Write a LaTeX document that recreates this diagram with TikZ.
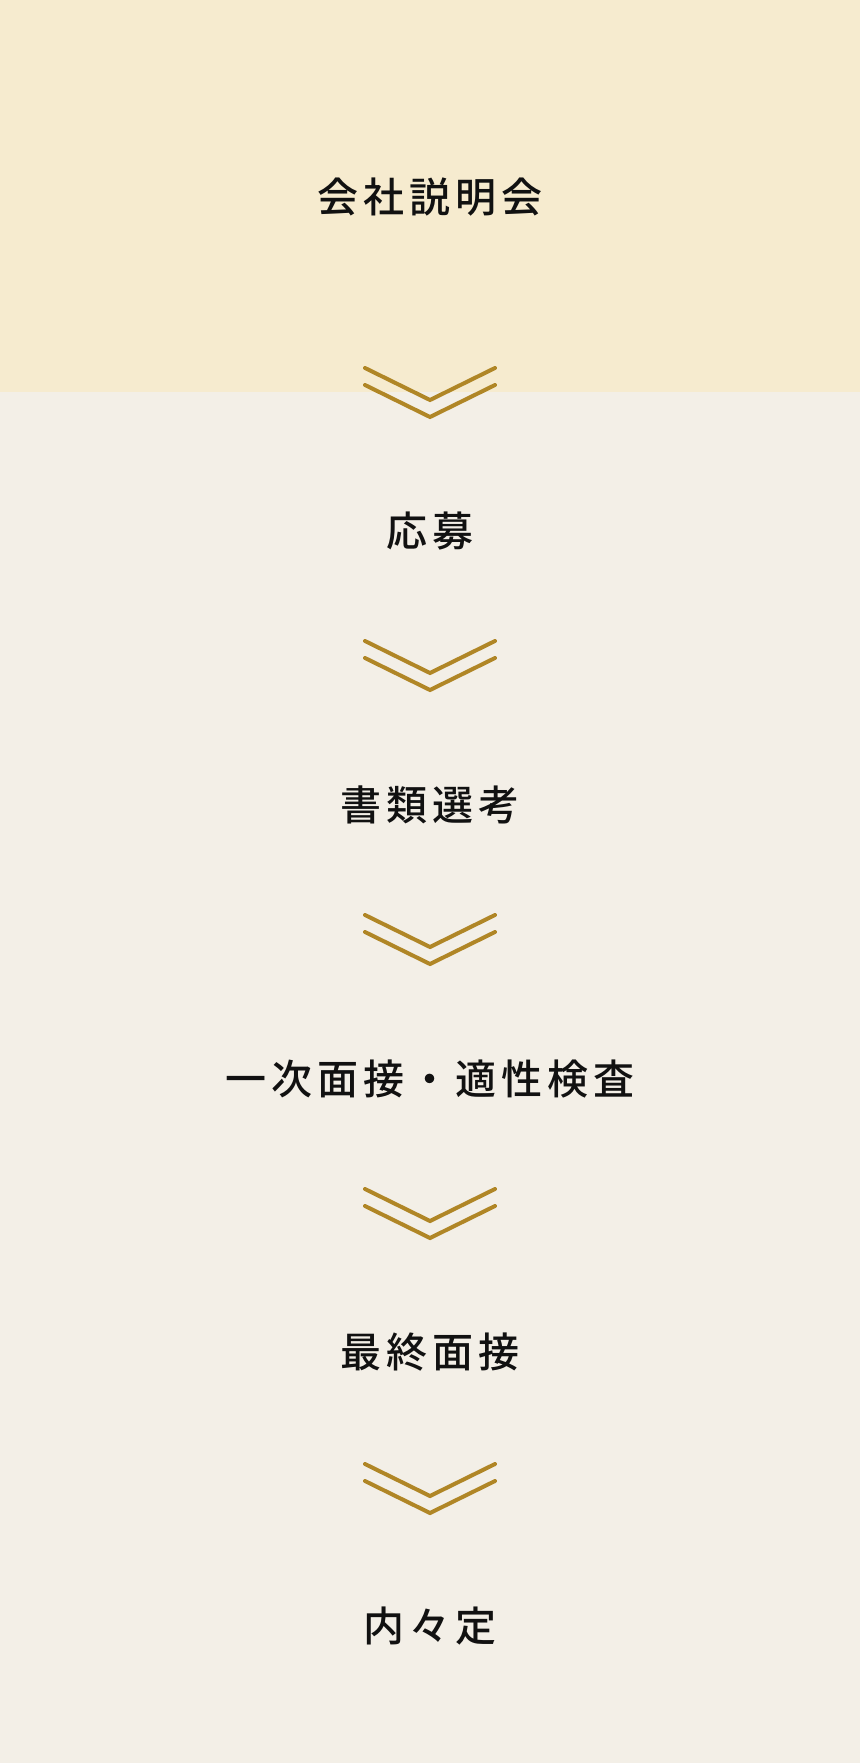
\documentclass[tikz,border=0pt]{standalone}
\usepackage{fontspec}
\newfontfamily\jpfont{Noto Sans CJK JP Medium}[LetterSpace=12]
\definecolor{topbg}{HTML}{F6EBCF}
\definecolor{pagebg}{HTML}{F3EFE7}
\definecolor{gold}{HTML}{B08626}
\definecolor{ink}{HTML}{111111}
\tikzset{
  chev/.pic={
    \draw (-65,0) -- (0,32) -- (65,0);
    \draw (-65,17) -- (0,49) -- (65,17);
  }
}

\begin{document}
\begin{tikzpicture}
    [x=1pt,y=-1pt,every node/.style={text=ink,font=\jpfont\fontsize{41pt}{48pt}\selectfont},
     every pic/.style={draw=gold,line width=4pt,line cap=round}]
    \useasboundingbox (0,0) rectangle (860,1763);
    \fill[pagebg] (0,0) rectangle (860,1763);
    \fill[topbg] (0,0) rectangle (860,392);
    \node (s1) at (430,197) {会社説明会};
    \node (s2) at (430,531) {応募};
    \node (s3) at (430,805) {書類選考};
    \node (s4) at (430,1079) {一次面接・適性検査};
    \node (s5) at (430,1352) {最終面接};
    \node (s6) at (430,1626) {内々定};
    \pic[gold] at (430,368) {chev};
    \pic[gold] at (430,641) {chev};
    \pic[gold] at (430,915) {chev};
    \pic[gold] at (430,1189) {chev};
    \pic[gold] at (430,1464) {chev};
  \end{tikzpicture}
\end{document}
